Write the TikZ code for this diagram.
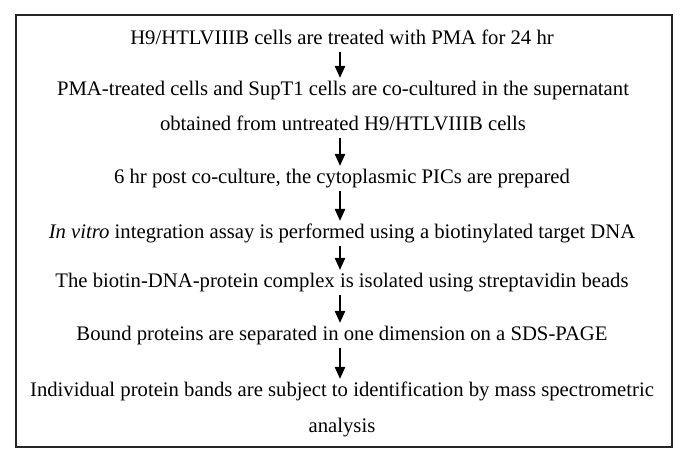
\documentclass[tikz,border=0pt]{standalone}
\usepackage{fontspec}
\setmainfont{Liberation Serif}
\usetikzlibrary{arrows.meta}
\begin{document}
\begin{tikzpicture}[x=1pt,y=-1pt,
  txt/.style={anchor=base, inner xsep=0pt, inner ysep=0pt, text height=17pt, text depth=7.5pt,
    font=\fontsize{20.7}{24}\selectfont},
  flow/.style={line width=1.2pt, -{Triangle[length=12pt,width=10.5pt]}},
  frame/.style={line width=1.6pt, draw=black!85}
]
\path[use as bounding box] (0,0) rectangle (685,466);
\draw[frame] (16,15) rectangle (672,447);

\node[txt] (s1)  at (342,44)  {H9/HTLVIIIB cells are treated with PMA for 24 hr};
\node[txt] (s2a) at (343,95)  {PMA-treated cells and SupT1 cells are co-cultured in the supernatant};
\node[txt] (s2b) at (343,130) {obtained from untreated H9/HTLVIIIB cells};
\node[txt] (s3)  at (342,183) {6 hr post co-culture, the cytoplasmic PICs are prepared};
\node[txt] (s4)  at (342,238) {\textit{In vitro} integration assay is performed using a biotinylated target DNA};
\node[txt] (s5)  at (342,287) {The biotin-DNA-protein complex is isolated using streptavidin beads};
\node[txt] (s6)  at (342,340) {Bound proteins are separated in one dimension on a SDS-PAGE};
\node[txt] (s7a) at (342,396) {Individual protein bands are subject to identification by mass spectrometric};
\node[txt] (s7b) at (342,432) {analysis};

\draw[flow] (s1.south -| 340,0) -- (s2a.north -| 340,0);
\draw[flow] (s2b.south -| 340,0) -- (s3.north -| 340,0);
\draw[flow] (s3.south -| 340,0) -- (s4.north -| 340,0);
\draw[flow] (s4.south -| 340,0) -- (s5.north -| 340,0);
\draw[flow] (s5.south -| 340,0) -- (s6.north -| 340,0);
\draw[flow] (s6.south -| 340,0) -- (s7a.north -| 340,0);
\end{tikzpicture}
\end{document}
